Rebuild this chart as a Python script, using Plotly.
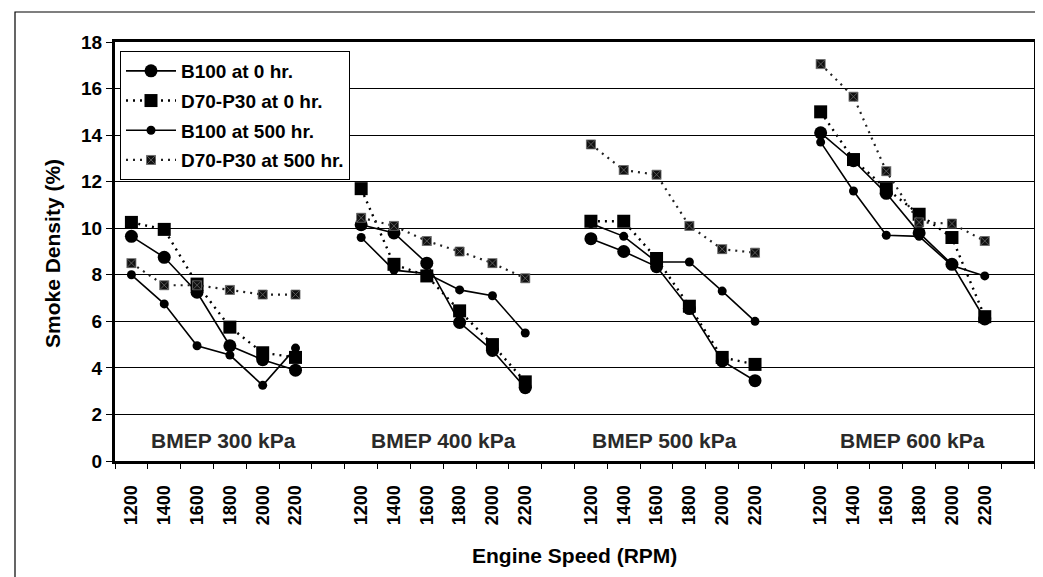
import plotly.graph_objects as go

# ---------------- data ----------------
groups = ["BMEP 300 kPa", "BMEP 400 kPa", "BMEP 500 kPa", "BMEP 600 kPa"]
rpm = [1200, 1400, 1600, 1800, 2000, 2200]

b100_0hr = [
    [9.65, 8.75, 7.25, 4.95, 4.35, 3.9],
    [10.15, 9.8, 8.5, 5.95, 4.75, 3.15],
    [9.55, 9.0, 8.35, 6.55, 4.3, 3.45],
    [14.1, 12.9, 11.5, 9.8, 8.45, 6.1],
]
d70_0hr = [
    [10.25, 9.95, 7.6, 5.75, 4.65, 4.45],
    [11.7, 8.45, 7.95, 6.45, 5.0, 3.4],
    [10.3, 10.3, 8.7, 6.65, 4.45, 4.15],
    [15.0, 12.95, 11.7, 10.6, 9.6, 6.2],
]
b100_500hr = [
    [8.0, 6.75, 4.95, 4.55, 3.25, 4.85],
    [9.6, 8.2, 8.05, 7.35, 7.1, 5.5],
    [10.2, 9.65, 8.55, 8.55, 7.3, 6.0],
    [13.7, 11.6, 9.7, 9.65, 8.4, 7.95],
]
d70_500hr = [
    [8.5, 7.55, 7.55, 7.35, 7.15, 7.15],
    [10.45, 10.1, 9.45, 9.0, 8.5, 7.85],
    [13.6, 12.5, 12.3, 10.1, 9.1, 8.95],
    [17.05, 15.65, 12.45, 10.25, 10.2, 9.45],
]

series_names = ["B100 at 0 hr.", "D70-P30 at 0 hr.", "B100 at 500 hr.", "D70-P30 at 500 hr."]
series_vals = [b100_0hr, d70_0hr, b100_500hr, d70_500hr]

# ---------------- layout constants (pixels) ----------------
W, H = 1043, 577
L, R, T, B = 107, 1026, 34, 453
PW, PH = R - L, B - T
FONT = "Liberation Sans, Arial, sans-serif"

slot = len(rpm) + 1  # one empty category between groups


def xpos(g, i):
    return g * slot + i


def build(vals):
    xs, ys = [], []
    for g, row in enumerate(vals):
        for i, v in enumerate(row):
            xs.append(xpos(g, i))
            ys.append(v)
        xs.append(None)
        ys.append(None)
    return xs, ys


styles = [
    dict(line=dict(color="black", width=1.6),
         marker=dict(symbol="circle", size=13, color="black")),
    dict(line=dict(color="black", width=2.4, dash="2px,5px"),
         marker=dict(symbol="square", size=13, color="black")),
    dict(line=dict(color="black", width=1.6),
         marker=dict(symbol="circle", size=9, color="black")),
    dict(line=dict(color="#222", width=2.2, dash="2px,5px"),
         marker=dict(symbol="square-x", size=9, color="#111",
                     line=dict(color="#6a6a6a", width=0.8))),
]

fig = go.Figure()
for k, (name, vals, st) in enumerate(zip(series_names, series_vals, styles)):
    xs, ys = build(vals)
    fig.add_trace(go.Scatter(x=xs, y=ys, name=name, mode="lines+markers",
                             legendgroup=f"g{k}", connectgaps=False, **st))

tickvals = [xpos(g, i) for g in range(len(groups)) for i in range(len(rpm))]
ticktext = [str(r) for g in range(len(groups)) for r in rpm]
nx = len(groups) * slot - 1

label_x = [2.8, 9.5, 16.25, 23.8]
for g, txt in enumerate(groups):
    fig.add_annotation(x=label_x[g], y=0.9, xref="x", yref="y", text=f"<b>{txt}</b>",
                       showarrow=False, xanchor="center", yanchor="middle",
                       font=dict(family=FONT, size=21, color="#2a2a2a"))


def px_x(p):
    return (p - L) / PW


def px_y(p):
    return (B - p) / PH


# axis titles
fig.add_annotation(x=px_x(44), y=px_y(246), xref="paper", yref="paper",
                   text="<b>Smoke Density (%)</b>", textangle=-90, showarrow=False,
                   xanchor="center", yanchor="middle",
                   font=dict(family=FONT, size=21, color="black"))
fig.add_annotation(x=px_x(566), y=px_y(547), xref="paper", yref="paper",
                   text="<b>Engine Speed (RPM)</b>", showarrow=False,
                   xanchor="center", yanchor="middle",
                   font=dict(family=FONT, size=21, color="black"))

# outer frame
fig.add_shape(type="rect", xref="paper", yref="paper",
              x0=px_x(7), x1=px_x(1041), y0=px_y(575), y1=px_y(4),
              line=dict(color="black", width=1.2), layer="below")

fig.update_layout(
    width=W, height=H,
    margin=dict(l=L, r=W - R, t=T, b=H - B, autoexpand=False),
    paper_bgcolor="white", plot_bgcolor="white",
    font=dict(family=FONT, color="black"),
    showlegend=True,
    legend=dict(x=px_x(112), y=px_y(43), xanchor="left", yanchor="top",
                bgcolor="white", bordercolor="black", borderwidth=1,
                font=dict(family=FONT, size=19, color="black", weight="bold"),
                traceorder="grouped", tracegroupgap=2, itemwidth=50),
)
fig.update_xaxes(
    range=[-0.5, nx + 0.5], tickmode="array", tickvals=tickvals, ticktext=ticktext,
    tickangle=-90, ticks="", ticklabelstandoff=14,
    tickfont=dict(family=FONT, size=18, color="black", weight="bold"),
    showgrid=False, zeroline=False,
    showline=True, linecolor="black", linewidth=3, mirror=True,
    minor=dict(tickmode="linear", tick0=-0.5, dtick=1, ticks="outside",
               ticklen=5, tickcolor="black", tickwidth=1, showgrid=False),
)
fig.update_yaxes(
    range=[0, 18], dtick=2, ticks="outside", ticklen=6, tickcolor="black",
    tickfont=dict(family=FONT, size=19, color="black", weight="bold"),
    showgrid=True, gridcolor="black", gridwidth=1.3, zeroline=False,
    showline=True, linecolor="black", linewidth=3, mirror=True,
)

fig.write_html("out.html")
